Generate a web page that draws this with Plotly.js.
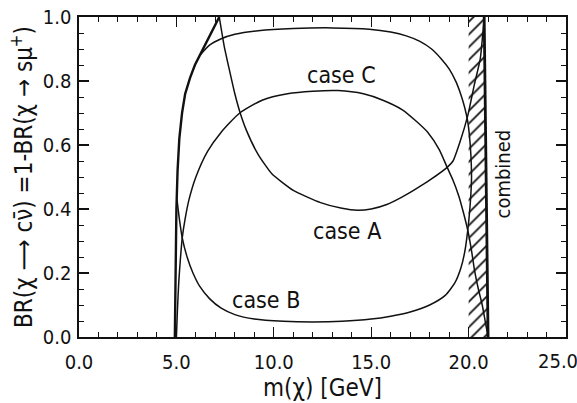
<!DOCTYPE html>
<html>
<head>
<meta charset="utf-8">
<script src="https://cdn.plot.ly/plotly-3.0.1.min.js"></script>
<style>html,body{margin:0;padding:0;background:#fff;}#chart{width:577px;height:403px;}</style>
</head>
<body>
<div id="chart"></div>
<script>
// Left boundary (bold) rising from threshold, then straight to the apex
const wallM  = [4.92, 4.95, 5.0, 5.06, 5.15, 5.29, 5.45, 5.7, 5.95, 6.2, 6.7, 7.2];
const wallBR = [0.0, 0.2, 0.4, 0.52, 0.62, 0.7, 0.76, 0.81, 0.85, 0.88, 0.94, 1.0];

// Outer contour: flat top (case C), steep drop near 20 GeV, bottom (case B) back to the wall
const outerM  = [6.2, 6.7, 7.3, 8.0, 9.2, 11.0, 13.0, 14.9, 16.0, 16.8, 17.5, 18.1, 18.6, 19.0, 19.35, 19.6, 19.8, 19.95, 20.05, 20.12, 20.15, 20.12, 20.05, 19.95, 19.8, 19.6, 19.3, 18.8, 18.0, 17.0, 16.0, 15.0, 13.5, 12.0, 10.5, 9.0, 8.0, 7.3, 6.7, 6.2, 5.85, 5.55, 5.3, 5.15, 5.03];
const outerBR = [0.88, 0.912, 0.932, 0.946, 0.957, 0.964, 0.966, 0.962, 0.953, 0.941, 0.924, 0.9, 0.869, 0.838, 0.798, 0.758, 0.717, 0.675, 0.625, 0.565, 0.5, 0.45, 0.39, 0.33, 0.265, 0.215, 0.17, 0.13, 0.1, 0.078, 0.065, 0.056, 0.049, 0.047, 0.049, 0.056, 0.07, 0.09, 0.12, 0.158, 0.2, 0.25, 0.31, 0.37, 0.43];

// Inverted-U curve (peak near 0.77)
const innerM  = [5.0, 5.05, 5.12, 5.2, 5.3, 5.45, 5.65, 6.0, 6.6, 7.3, 8.25, 9.4, 10.7, 12.0, 13.3, 14.6, 15.6, 16.6, 17.3, 17.9, 18.5, 18.9, 19.2, 19.5, 19.75, 19.97, 20.15, 20.3, 20.5, 20.7, 20.85, 21.0];
const innerBR = [0.0, 0.08, 0.17, 0.24, 0.31, 0.37, 0.43, 0.5, 0.58, 0.64, 0.7, 0.74, 0.76, 0.768, 0.77, 0.76, 0.74, 0.71, 0.675, 0.64, 0.585, 0.53, 0.49, 0.44, 0.385, 0.33, 0.27, 0.21, 0.15, 0.1, 0.05, 0.0];

// U-shaped curve (minimum near 0.4) from the apex at 7.2 GeV to 20.8 GeV
const uM  = [7.2, 7.45, 7.7, 8.0, 8.25, 8.6, 9.2, 9.9, 11.0, 12.4, 13.5, 14.3, 15.0, 15.8, 16.6, 17.3, 18.0, 18.9, 19.2, 19.56, 19.97, 20.3, 20.6, 20.8];
const uBR = [1.0, 0.91, 0.84, 0.76, 0.705, 0.645, 0.57, 0.51, 0.458, 0.42, 0.402, 0.396, 0.4, 0.414, 0.438, 0.463, 0.49, 0.53, 0.55, 0.61, 0.695, 0.79, 0.87, 1.0];

// Combined exclusion (hatched) and its bold right edge
const hatchM  = [20.0, 20.0, 20.8, 21.0, 20.0];
const hatchBR = [0.0, 1.0, 1.0, 0.0, 0.0];
const edgeM  = [20.8, 21.0];
const edgeBR = [1.0, 0.0];

const xTicks = [0, 5, 10, 15, 20, 25];
const xTickText = ['0.0', '5.0', '10.0', '15.0', '20.0', ''];
const xLastLabel = '25.0';
const yTicks = [0.0, 0.2, 0.4, 0.6, 0.8, 1.0];
const labels = [
  {text: 'case C', m: 13.5, br: 0.82},
  {text: 'case A', m: 13.75, br: 0.33},
  {text: 'case B', m: 9.6, br: 0.115}
];

const FONT = '"DejaVu Sans Condensed", "Liberation Sans Narrow", "Liberation Sans", Arial, sans-serif';
const black = '#111';

const traces = [
  {x: hatchM, y: hatchBR, mode: 'lines', fill: 'toself', fillcolor: 'rgba(0,0,0,0)',
   fillpattern: {shape: '/', size: 9, solidity: 0.2, fgcolor: black, bgcolor: 'white'},
   line: {width: 0, color: 'rgba(0,0,0,0)'}, hoverinfo: 'skip', showlegend: false},
  {x: edgeM, y: edgeBR, mode: 'lines', line: {color: black, width: 2.8}, showlegend: false},
  {x: wallM, y: wallBR, mode: 'lines', line: {color: black, width: 2.4}, showlegend: false},
  {x: outerM, y: outerBR, mode: 'lines', line: {color: black, width: 1.5, shape: 'spline', smoothing: 0.6}, showlegend: false},
  {x: innerM, y: innerBR, mode: 'lines', line: {color: black, width: 1.5, shape: 'spline', smoothing: 0.6}, showlegend: false},
  {x: uM, y: uBR, mode: 'lines', line: {color: black, width: 1.5, shape: 'spline', smoothing: 0.5}, showlegend: false}
];

const annotations = labels.map(l => ({
  x: l.m, y: l.br, xref: 'x', yref: 'y', text: l.text, showarrow: false,
  font: {family: FONT, size: 23, color: black}
}));
annotations.push({
  x: 21.75, y: 0.51, xref: 'x', yref: 'y', text: 'combined', showarrow: false,
  textangle: -90, font: {family: FONT, size: 20, color: black}
});
annotations.push({
  x: 1, y: 0, xref: 'paper', yref: 'paper', text: xLastLabel, showarrow: false,
  xanchor: 'center', yanchor: 'middle', xshift: -8, yshift: -24,
  font: {family: FONT, size: 20, color: black}
});

const layout = {
  width: 577, height: 403,
  margin: {l: 79, r: 11, t: 17, b: 66},
  paper_bgcolor: 'white', plot_bgcolor: 'white',
  font: {family: FONT, color: black},
  showlegend: false,
  xaxis: {
    range: [0, 25], tickvals: xTicks, ticktext: xTickText,
    ticks: 'inside', ticklen: 10, tickwidth: 1.2, tickcolor: black,
    minor: {dtick: 1, ticks: 'inside', ticklen: 5, tickwidth: 1, tickcolor: black},
    showline: true, linecolor: black, linewidth: 1.6, mirror: 'allticks',
    showgrid: false, zeroline: false,
    tickfont: {family: FONT, size: 20, color: black}, ticklabelstandoff: 6,
    title: {text: 'm(χ) [GeV]', font: {family: FONT, size: 24, color: black}, standoff: 6}
  },
  yaxis: {
    range: [0, 1.0], tickvals: yTicks, tickformat: '.1f',
    ticks: 'inside', ticklen: 10, tickwidth: 1.2, tickcolor: black,
    minor: {dtick: 0.05, ticks: 'inside', ticklen: 5, tickwidth: 1, tickcolor: black},
    showline: true, linecolor: black, linewidth: 1.6, mirror: 'allticks',
    showgrid: false, zeroline: false, ticklabeloverflow: 'allow',
    tickfont: {family: FONT, size: 20, color: black}, ticklabelstandoff: 2,
    title: {text: 'BR(χ ⟶ cν̄) =1-BR(χ → sμ<sup>+</sup>)', font: {family: FONT, size: 24, color: black}, standoff: 3}
  },
  annotations: annotations
};

Plotly.newPlot('chart', traces, layout, {staticPlot: true, displayModeBar: false});
</script>
</body>
</html>
